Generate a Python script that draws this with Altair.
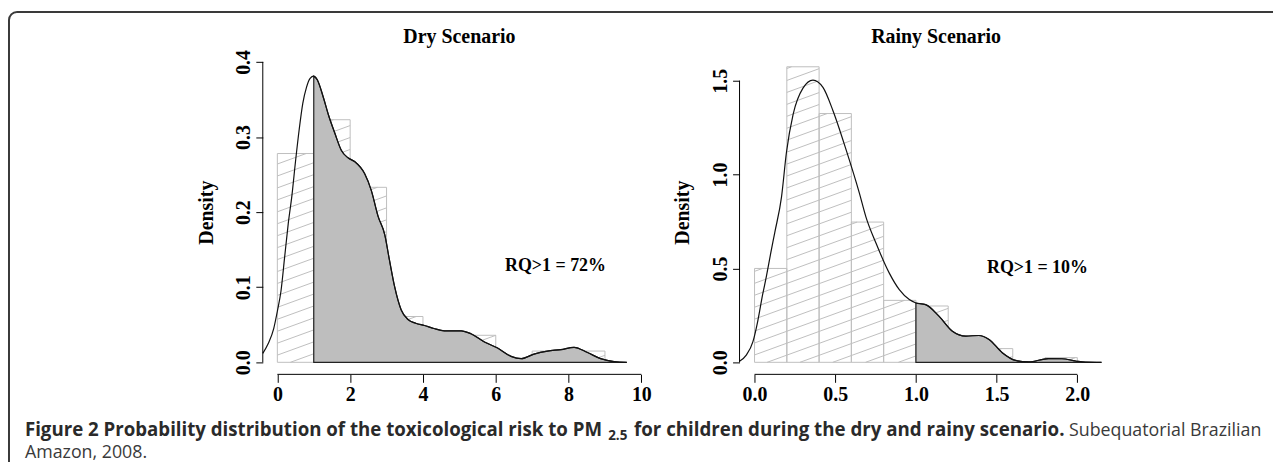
import math
import altair as alt
import pandas as pd

# ------------------------------------------------------------------ data
dry_bin_left = [0, 1, 2, 3, 4, 5, 6, 7, 8]
dry_bin_width = 1.0
dry_bin_density = [0.278, 0.323, 0.233, 0.061, 0.035, 0.036, 0.0, 0.015, 0.015]

rainy_bin_left = [0.0, 0.2, 0.4, 0.6, 0.8, 1.0, 1.2, 1.4, 1.6, 1.8]
rainy_bin_width = 0.2
rainy_bin_density = [0.50, 1.574, 1.325, 0.747, 0.33, 0.30, 0.12, 0.073, 0.0, 0.025]

dry_kde_x = [-0.40, -0.25, -0.10, 0.00, 0.10, 0.20, 0.30, 0.40, 0.50, 0.60, 0.70,
             0.80, 0.90, 1.00, 1.10, 1.25, 1.40, 1.58, 1.76, 1.95, 2.13, 2.40,
             2.58, 2.77, 2.95, 3.08, 3.22, 3.40, 3.59, 3.80, 4.04, 4.30, 4.59,
             5.05, 5.32, 5.69, 6.05, 6.42, 6.70, 7.05, 7.42, 7.79, 8.15, 8.52,
             8.88, 9.25, 9.60]
dry_kde_y = [0.012, 0.025, 0.045, 0.068, 0.095, 0.140, 0.185, 0.222, 0.268, 0.310,
             0.345, 0.366, 0.378, 0.381, 0.376, 0.355, 0.330, 0.305, 0.282, 0.272,
             0.267, 0.251, 0.229, 0.194, 0.170, 0.136, 0.101, 0.070, 0.057, 0.052,
             0.049, 0.045, 0.042, 0.042, 0.038, 0.027, 0.019, 0.008, 0.005, 0.011,
             0.015, 0.017, 0.020, 0.013, 0.005, 0.001, 0.000]

rainy_kde_x = [-0.093, -0.05, -0.01, 0.02, 0.05, 0.074, 0.10, 0.125, 0.167, 0.198,
               0.239, 0.30, 0.362, 0.424, 0.486, 0.568, 0.65, 0.69, 0.753, 0.835,
               0.897, 0.959, 1.00, 1.06, 1.144, 1.226, 1.309, 1.39, 1.453, 1.535,
               1.617, 1.70, 1.82, 1.905, 1.99, 2.05, 2.15]
rainy_kde_y = [0.006, 0.04, 0.11, 0.22, 0.36, 0.46, 0.58, 0.69, 0.88, 1.12,
               1.32, 1.46, 1.503, 1.464, 1.34, 1.13, 0.90, 0.775, 0.634, 0.475,
               0.387, 0.334, 0.316, 0.307, 0.245, 0.166, 0.140, 0.143, 0.122, 0.051,
               0.010, 0.002, 0.020, 0.019, 0.007, 0.001, 0.0]

dry_xticks = [0, 2, 4, 6, 8, 10]
dry_yticks = [0.0, 0.1, 0.2, 0.3, 0.4]
rainy_xticks = [0.0, 0.5, 1.0, 1.5, 2.0]
rainy_yticks = [0.0, 0.5, 1.0, 1.5]

threshold = 1.0
dry_title = "Dry Scenario"
rainy_title = "Rainy Scenario"
dry_note = "RQ>1 = 72%"
rainy_note = "RQ>1 = 10%"
dry_note_pos = (7.64, 0.128)
rainy_note_pos = (1.753, 0.50)
y_title = "Density"

caption_bold_1 = "Figure 2 Probability distribution of the toxicological risk to PM"
caption_sub = "2.5"
caption_bold_2 = "for children during the dry and rainy scenario."
caption_regular_1 = "Subequatorial Brazilian"
caption_regular_2 = "Amazon, 2008."

# ------------------------------------------------------------------ layout
W, H = 395, 326
SPACING = 84
dry_xdom = [-0.4, 10.4]
dry_ydom = [-0.016, 0.416]
rainy_xdom = [-0.093, 2.343]
rainy_ydom = [-0.064, 1.664]

SERIF = "Liberation Serif"
SANS = "Open Sans"
BAR_GREY = "#bebebe"
FILL_GREY = "#bebebe"


def hatch_segments(lefts, width, dens, xdom, ydom, angle_deg=20.0, spacing=12.0):
    """Diagonal shading lines inside each bar (pattern in pixel space)."""
    m = math.tan(math.radians(angle_deg))
    sx = lambda v: (v - xdom[0]) / (xdom[1] - xdom[0]) * W
    sy = lambda v: H - (v - ydom[0]) / (ydom[1] - ydom[0]) * H
    ix = lambda X: xdom[0] + X / W * (xdom[1] - xdom[0])
    iy = lambda Y: ydom[0] + (H - Y) / H * (ydom[1] - ydom[0])
    rows = []
    for x0, h in zip(lefts, dens):
        if h <= 0:
            continue
        X0, X1 = sx(x0), sx(x0 + width)
        Yt, Yb = sy(h), sy(0)
        kmin = math.floor((Yt + m * X0) / spacing)
        kmax = math.ceil((Yb + m * X1) / spacing)
        for k in range(kmin, kmax + 1):
            c = k * spacing
            xa = max(X0, (c - Yb) / m)
            xb = min(X1, (c - Yt) / m)
            if xb - xa > 0.5:
                rows.append({"x": ix(xa), "y": iy(c - m * xa),
                             "x2": ix(xb), "y2": iy(c - m * xb)})
    return pd.DataFrame(rows)


def panel(lefts, width, dens, kx, ky, xdom, ydom, xticks, yticks, xfmt, yfmt,
          title, note, note_pos):
    xs = alt.Scale(domain=xdom, nice=False, zero=False)
    ys = alt.Scale(domain=ydom, nice=False, zero=False)
    hist = pd.DataFrame({"x": lefts, "x2": [v + width for v in lefts], "y": dens})
    kde = pd.DataFrame({"x": kx, "y": ky})
    tail = kde[kde["x"] >= threshold]

    bars = alt.Chart(hist).mark_rect(
        fillOpacity=0, stroke=BAR_GREY, strokeWidth=1
    ).encode(
        x=alt.X("x:Q", scale=xs, axis=alt.Axis(
            values=xticks, format=xfmt, title=None, domain=False, grid=False,
            tickSize=8, tickColor="black", tickWidth=1, labelPadding=2,
            labelFont=SERIF, labelFontSize=20, labelFontWeight="bold",
            labelColor="black", labelOverlap=False, labelFlush=False)),
        x2="x2:Q",
        y=alt.Y("y:Q", scale=ys, axis=alt.Axis(
            values=yticks, format=yfmt, title=y_title, domain=False, grid=False,
            tickSize=7, tickColor="black", tickWidth=1, labelPadding=6,
            labelAngle=270, labelAlign="center", labelBaseline="alphabetic",
            labelFont=SERIF, labelFontSize=20, labelFontWeight="bold",
            labelColor="black", labelOverlap=False, labelFlush=False,
            titleFont=SERIF, titleFontSize=20, titleFontWeight="bold",
            titleColor="black", titleAngle=270, titleX=-57, titleY=H / 2,
            titleAlign="center", titleBaseline="middle")),
        y2=alt.datum(0),
    )

    hatch = alt.Chart(hatch_segments(lefts, width, dens, xdom, ydom)).mark_rule(
        color=BAR_GREY, strokeWidth=1
    ).encode(x=alt.X("x:Q", scale=xs), y=alt.Y("y:Q", scale=ys), x2="x2:Q", y2="y2:Q")

    area = alt.Chart(tail).mark_area(
        color=FILL_GREY, stroke="#222222", strokeWidth=1.2, interpolate="monotone",
        fillOpacity=1
    ).encode(x=alt.X("x:Q", scale=xs), y=alt.Y("y:Q", scale=ys), y2=alt.datum(0))

    line = alt.Chart(kde).mark_line(
        color="#111111", strokeWidth=1.2, interpolate="monotone"
    ).encode(x=alt.X("x:Q", scale=xs), y=alt.Y("y:Q", scale=ys))

    xaxis_line = alt.Chart(pd.DataFrame({"x": [min(xticks)], "x2": [max(xticks)],
                                         "y": [ydom[0]]})).mark_rule(
        color="black", strokeWidth=1
    ).encode(x=alt.X("x:Q", scale=xs), x2="x2:Q", y=alt.Y("y:Q", scale=ys))

    yaxis_line = alt.Chart(pd.DataFrame({"x": [xdom[0]], "y": [min(yticks)],
                                         "y2": [max(yticks)]})).mark_rule(
        color="black", strokeWidth=1
    ).encode(x=alt.X("x:Q", scale=xs), y=alt.Y("y:Q", scale=ys), y2="y2:Q")

    ttl = alt.Chart(pd.DataFrame({"t": [title]})).mark_text(
        font=SERIF, fontSize=20, fontWeight="bold", color="black",
        align="center", baseline="alphabetic"
    ).encode(text="t:N", x=alt.datum((xdom[0] + xdom[1]) / 2, scale=xs),
             y=alt.value(-7))

    nt = alt.Chart(pd.DataFrame({"t": [note], "x": [note_pos[0]], "y": [note_pos[1]]})).mark_text(
        font=SERIF, fontSize=18, fontWeight="bold", color="black",
        align="center", baseline="middle"
    ).encode(text="t:N", x=alt.X("x:Q", scale=xs), y=alt.Y("y:Q", scale=ys))

    return [hatch, bars, area, line, xaxis_line, yaxis_line, ttl, nt]


dry_layers = panel(dry_bin_left, dry_bin_width, dry_bin_density, dry_kde_x, dry_kde_y,
                   dry_xdom, dry_ydom, dry_xticks, dry_yticks, "d", ".1f",
                   dry_title, dry_note, dry_note_pos)
rainy_layers = panel(rainy_bin_left, rainy_bin_width, rainy_bin_density, rainy_kde_x,
                     rainy_kde_y, rainy_xdom, rainy_ydom, rainy_xticks, rainy_yticks,
                     ".1f", ".1f", rainy_title, rainy_note, rainy_note_pos)

# frame (rounded top-left corner) and caption, positioned relative to the left panel
one = pd.DataFrame({"k": [0]})
FRAME = "#3a3a3a"
frame_left = alt.Chart(one).mark_rule(color=FRAME, strokeWidth=2).encode(
    x=alt.value(-255), y=alt.value(-30), y2=alt.value(414))
frame_top = alt.Chart(one).mark_rule(color=FRAME, strokeWidth=2).encode(
    x=alt.value(-247), x2=alt.value(1015), y=alt.value(-38))
frame_corner = alt.Chart(one).mark_arc(
    radius=9, radius2=7, theta=3 * math.pi / 2, theta2=2 * math.pi, color=FRAME
).encode(x=alt.value(-247), y=alt.value(-30))


def cap(text, x, y, weight, size, color):
    return alt.Chart(pd.DataFrame({"t": [text]})).mark_text(
        font=SANS, fontSize=size, fontWeight=weight, color=color,
        align="left", baseline="alphabetic"
    ).encode(text="t:N", x=alt.value(x), y=alt.value(y))


BOLD_C = "#2a2a2a"
REG_C = "#3a3a3a"
caption = [
    cap(caption_bold_1, -239, 387.5, "bold", 18.75, BOLD_C),
    cap(caption_sub, 347, 391.5, "bold", 13.5, BOLD_C),
    cap(caption_bold_2, 373, 387.5, "bold", 18.8, BOLD_C),
    cap(caption_regular_1, 810, 387.5, "normal", 17.9, REG_C),
    cap(caption_regular_2, -239, 410.5, "normal", 17.9, REG_C),
]

dry = alt.layer(*dry_layers, frame_left, frame_top, frame_corner, *caption).properties(
    width=W, height=H)
rainy = alt.layer(*rainy_layers).properties(width=W, height=H)

chart = alt.hconcat(dry, rainy, spacing=SPACING, bounds="flush").properties(
    padding={"left": 0, "top": 2, "right": 0, "bottom": 0},
    background="white",
).configure_view(stroke=None)

chart.save("out.html", embed_options={"renderer": "svg", "actions": False})
